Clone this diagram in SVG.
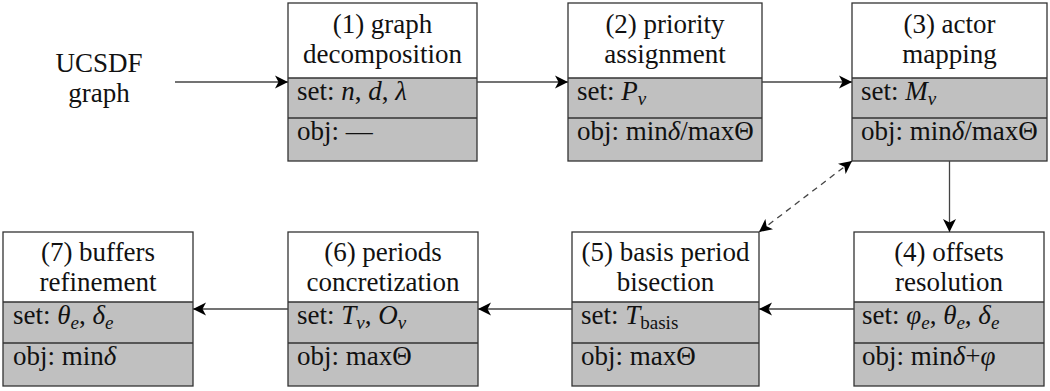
<svg xmlns="http://www.w3.org/2000/svg" width="1050" height="391" viewBox="0 0 1050 391">
<defs>
<style>
text{font-family:"Liberation Serif","Times New Roman",serif;font-size:27px;fill:#111}
.c{text-anchor:middle}
.m{font-style:italic}
.s{font-size:19px}
.w{fill:#fff}
.g{fill:#c0c0c0}
.bd{fill:none;stroke:#333;stroke-width:1.3}
.dv{stroke:#333;stroke-width:1.3}
.cn{fill:none;stroke:#444;stroke-width:1.3}
.dash{stroke-dasharray:6 5}
</style>
<marker id="ah" markerUnits="userSpaceOnUse" markerWidth="14" markerHeight="14" refX="13" refY="7" orient="auto-start-reverse" viewBox="0 0 14 14">
<path d="M0,0.5 L13,7 L0,13.5 L3.5,7 Z" fill="#000"/>
</marker>
</defs>
<rect width="1050" height="391" fill="#fff"/>

<g id="input">
<text class="c" x="99" y="72">UCSDF</text>
<text class="c" x="99" y="102">graph</text>
</g>

<g id="n1">
<rect class="w" x="288" y="3" width="189" height="75"/>
<rect class="g" x="288" y="78" width="189" height="83"/>
<line class="dv" x1="288" y1="78" x2="477" y2="78"/>
<line class="dv" x1="288" y1="118" x2="477" y2="118"/>
<rect class="bd" x="288" y="3" width="189" height="158"/>
<text class="c" x="382.5" y="33">(1) graph</text>
<text class="c" x="382.5" y="63">decomposition</text>
<text x="297" y="100">set: <tspan class="m">n</tspan>, <tspan class="m">d</tspan>, <tspan class="m">λ</tspan></text>
<text x="297" y="140">obj: —</text>
</g>

<g id="n2">
<rect class="w" x="568" y="3" width="194" height="75"/>
<rect class="g" x="568" y="78" width="194" height="83"/>
<line class="dv" x1="568" y1="78" x2="762" y2="78"/>
<line class="dv" x1="568" y1="118" x2="762" y2="118"/>
<rect class="bd" x="568" y="3" width="194" height="158"/>
<text class="c" x="665" y="33">(2) priority</text>
<text class="c" x="665" y="63">assignment</text>
<text x="577" y="100">set: <tspan class="m">P</tspan><tspan class="m s" dy="5">v</tspan></text>
<text x="577" y="140">obj: min<tspan class="m">δ</tspan>/maxΘ</text>
</g>

<g id="n3">
<rect class="w" x="852" y="3" width="195" height="75"/>
<rect class="g" x="852" y="78" width="195" height="83"/>
<line class="dv" x1="852" y1="78" x2="1047" y2="78"/>
<line class="dv" x1="852" y1="118" x2="1047" y2="118"/>
<rect class="bd" x="852" y="3" width="195" height="158"/>
<text class="c" x="949.5" y="33">(3) actor</text>
<text class="c" x="949.5" y="63">mapping</text>
<text x="861" y="100">set: <tspan class="m">M</tspan><tspan class="m s" dy="5">v</tspan></text>
<text x="861" y="140">obj: min<tspan class="m">δ</tspan>/maxΘ</text>
</g>

<g id="n4">
<rect class="w" x="854" y="232" width="190" height="70"/>
<rect class="g" x="854" y="302" width="190" height="84"/>
<line class="dv" x1="854" y1="302" x2="1044" y2="302"/>
<line class="dv" x1="854" y1="343" x2="1044" y2="343"/>
<rect class="bd" x="854" y="232" width="190" height="154"/>
<text class="c" x="949" y="261">(4) offsets</text>
<text class="c" x="949" y="291">resolution</text>
<text x="862" y="324">set: <tspan class="m">φ</tspan><tspan class="m s" dy="5">e</tspan><tspan dy="-5">, </tspan><tspan class="m">θ</tspan><tspan class="m s" dy="5">e</tspan><tspan dy="-5">, </tspan><tspan class="m">δ</tspan><tspan class="m s" dy="5">e</tspan></text>
<text x="862" y="365">obj: min<tspan class="m">δ</tspan>+<tspan class="m">φ</tspan></text>
</g>

<g id="n5">
<rect class="w" x="572" y="232" width="187" height="70"/>
<rect class="g" x="572" y="302" width="187" height="84"/>
<line class="dv" x1="572" y1="302" x2="759" y2="302"/>
<line class="dv" x1="572" y1="343" x2="759" y2="343"/>
<rect class="bd" x="572" y="232" width="187" height="154"/>
<text class="c" x="665.5" y="261">(5) basis period</text>
<text class="c" x="665.5" y="291">bisection</text>
<text x="581" y="324">set: <tspan class="m">T</tspan><tspan class="s" dy="5">basis</tspan></text>
<text x="581" y="365">obj: maxΘ</text>
</g>

<g id="n6">
<rect class="w" x="288" y="232" width="190" height="70"/>
<rect class="g" x="288" y="302" width="190" height="84"/>
<line class="dv" x1="288" y1="302" x2="478" y2="302"/>
<line class="dv" x1="288" y1="343" x2="478" y2="343"/>
<rect class="bd" x="288" y="232" width="190" height="154"/>
<text class="c" x="383" y="261">(6) periods</text>
<text class="c" x="383" y="291">concretization</text>
<text x="297" y="324">set: <tspan class="m">T</tspan><tspan class="m s" dy="5">v</tspan><tspan dy="-5">, </tspan><tspan class="m">O</tspan><tspan class="m s" dy="5">v</tspan></text>
<text x="297" y="365">obj: maxΘ</text>
</g>

<g id="n7">
<rect class="w" x="3" y="232" width="190" height="70"/>
<rect class="g" x="3" y="302" width="190" height="84"/>
<line class="dv" x1="3" y1="302" x2="193" y2="302"/>
<line class="dv" x1="3" y1="343" x2="193" y2="343"/>
<rect class="bd" x="3" y="232" width="190" height="154"/>
<text class="c" x="98" y="261">(7) buffers</text>
<text class="c" x="98" y="291">refinement</text>
<text x="13" y="324">set: <tspan class="m">θ</tspan><tspan class="m s" dy="5">e</tspan><tspan dy="-5">, </tspan><tspan class="m">δ</tspan><tspan class="m s" dy="5">e</tspan></text>
<text x="13" y="365">obj: min<tspan class="m">δ</tspan></text>
</g>

<g id="connectors">
<line class="cn" x1="175" y1="82" x2="288" y2="82" marker-end="url(#ah)"/>
<line class="cn" x1="477" y1="82" x2="568" y2="82" marker-end="url(#ah)"/>
<line class="cn" x1="762" y1="82" x2="852" y2="82" marker-end="url(#ah)"/>
<line class="cn" x1="949.5" y1="161" x2="949.5" y2="232" marker-end="url(#ah)"/>
<line class="cn" x1="854" y1="309" x2="759" y2="309" marker-end="url(#ah)"/>
<line class="cn" x1="572" y1="309" x2="478" y2="309" marker-end="url(#ah)"/>
<line class="cn" x1="288" y1="309" x2="193" y2="309" marker-end="url(#ah)"/>
<line class="cn dash" x1="852" y1="161" x2="759" y2="232" marker-start="url(#ah)" marker-end="url(#ah)"/>
</g>
</svg>
